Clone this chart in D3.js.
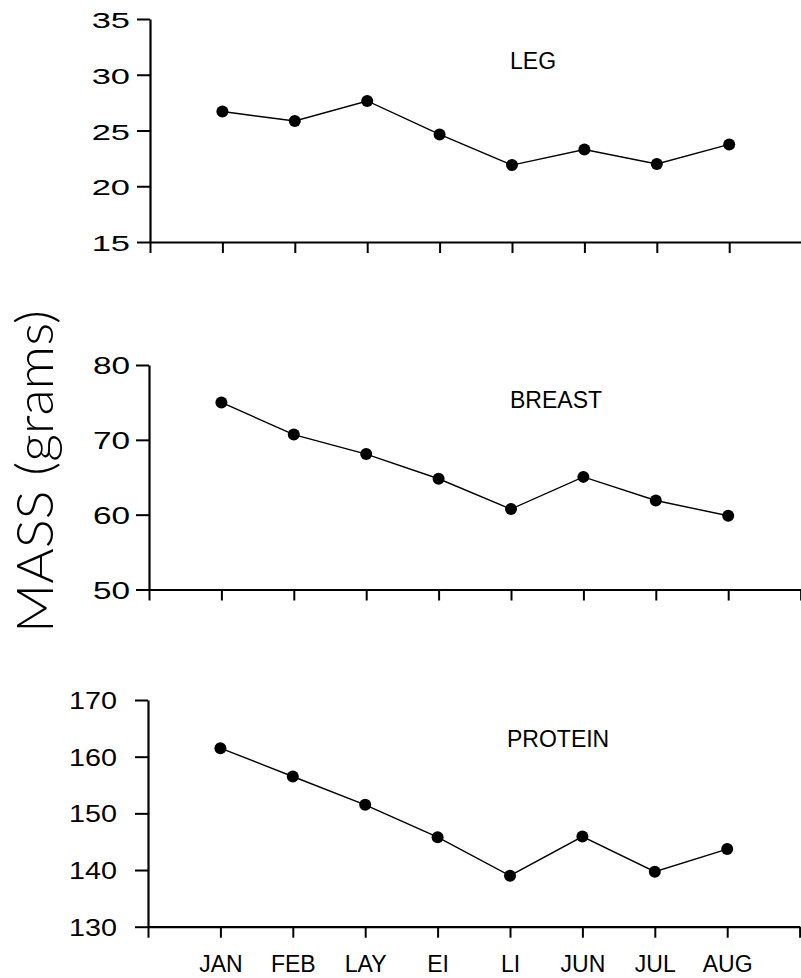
<!DOCTYPE html>
<html>
<head>
<meta charset="utf-8">
<script src="https://cdn.jsdelivr.net/npm/d3@7"></script>
<style>
  html, body { margin: 0; padding: 0; background: #fff; }
  svg { display: block; }
</style>
</head>
<body>
<svg id="chart" width="801" height="978"></svg>
<script>
// ---- data ----
const categories = ["JAN", "FEB", "LAY", "EI", "LI", "JUN", "JUL", "AUG"];
const legValues = [26.7, 25.85, 27.65, 24.65, 21.9, 23.3, 22.0, 23.75];
const breastValues = [75.0, 70.7, 68.1, 64.8, 60.75, 65.05, 61.9, 59.85];
const proteinValues = [161.5, 156.5, 151.5, 145.8, 139.0, 145.9, 139.7, 143.7];
const legTicks = [15, 20, 25, 30, 35];
const breastTicks = [50, 60, 70, 80];
const proteinTicks = [130, 140, 150, 160, 170];
const panelTitles = ["LEG", "BREAST", "PROTEIN"];
const yAxisTitle = "MASS (grams)";

// ---- layout ----
const svg = d3.select("#chart");
const panels = [
  { title: panelTitles[0], values: legValues, ticks: legTicks, yTop: 19, yBottom: 242, xLeft: 150, labelRight: 130, titleX: 510, titleY: 69, showMonths: false, sx: 1.5 },
  { title: panelTitles[1], values: breastValues, ticks: breastTicks, yTop: 365, yBottom: 589.5, xLeft: 149, labelRight: 130, titleX: 510, titleY: 408, showMonths: false, sx: 1.45 },
  { title: panelTitles[2], values: proteinValues, ticks: proteinTicks, yTop: 700, yBottom: 926.7, xLeft: 148, labelRight: 117, titleX: 507, titleY: 747, showMonths: true, sx: 1.25 }
];
const step = 72.4;

panels.forEach(p => {
  const ext = d3.extent(p.ticks);
  const y = d3.scaleLinear().domain(ext).range([p.yBottom, p.yTop]);
  const x = d3.scaleLinear().domain([0, categories.length + 1]).range([p.xLeft, p.xLeft + (categories.length + 1) * step]);

  const g = svg.append("g");

  // x axis
  const xAxis = d3.axisBottom(x)
    .tickValues(d3.range(0, categories.length + 2))
    .tickSize(11)
    .tickSizeOuter(0)
    .tickFormat(i => (p.showMonths && i >= 1 && i <= categories.length) ? categories[i - 1] : "");
  const gx = g.append("g").attr("transform", `translate(0,${p.yBottom})`).call(xAxis);
  gx.select(".domain").attr("stroke", "#000").attr("stroke-width", 2.2);
  gx.selectAll(".tick line").attr("stroke", "#000").attr("stroke-width", 2);
  gx.selectAll(".tick text")
    .attr("y", 45)
    .attr("dy", 0)
    .attr("fill", "#000")
    .style("font-family", "'Liberation Sans', Arial, sans-serif")
    .style("font-size", "23px");

  // y axis
  const yAxis = d3.axisLeft(y)
    .tickValues(p.ticks)
    .tickSize(13)
    .tickSizeOuter(0)
    .tickFormat(d3.format("d"));
  const gy = g.append("g").attr("transform", `translate(${p.xLeft},0)`).call(yAxis);
  gy.select(".domain").attr("stroke", "#000").attr("stroke-width", 2.2);
  gy.selectAll(".tick line").attr("stroke", "#000").attr("stroke-width", 2);
  gy.selectAll(".tick text")
    .attr("x", 0)
    .attr("dy", 0)
    .attr("transform", `translate(${p.labelRight - p.xLeft},8.5) scale(${p.sx},1)`)
    .attr("fill", "#000")
    .style("font-family", "'Liberation Sans', Arial, sans-serif")
    .style("font-size", "23px");

  // line
  const line = d3.line()
    .x((d, i) => x(i + 1))
    .y(d => y(d));
  g.append("path")
    .datum(p.values)
    .attr("d", line)
    .attr("fill", "none")
    .attr("stroke", "#000")
    .attr("stroke-width", 1.4);

  g.selectAll("circle.pt")
    .data(p.values)
    .enter().append("circle")
    .attr("class", "pt")
    .attr("cx", (d, i) => x(i + 1))
    .attr("cy", d => y(d))
    .attr("r", 6)
    .attr("fill", "#000");

  // panel title
  g.append("text")
    .attr("x", p.titleX)
    .attr("y", p.titleY)
    .attr("fill", "#000")
    .style("font-family", "'Liberation Sans', Arial, sans-serif")
    .style("font-size", "23px")
    .text(p.title);
});

// overall y title
svg.append("text")
  .attr("transform", "translate(53,471.5) rotate(-90)")
  .attr("text-anchor", "middle")
  .attr("textLength", 323)
  .attr("lengthAdjust", "spacingAndGlyphs")
  .attr("fill", "#000")
  .style("font-family", "Lato, 'Open Sans', sans-serif")
  .style("font-weight", 300)
  .style("font-size", "52px")
  .text(yAxisTitle);
</script>
</body>
</html>
